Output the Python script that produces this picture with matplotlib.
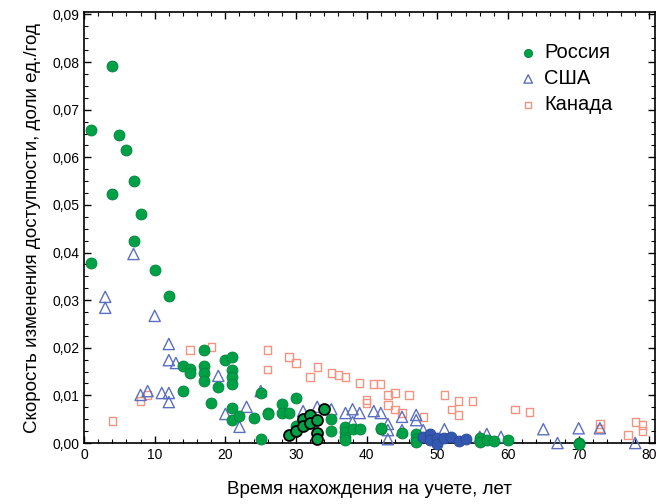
import matplotlib
matplotlib.use('Agg')
import matplotlib.pyplot as plt
from matplotlib.ticker import MultipleLocator, FuncFormatter

plt.rcParams['font.family'] = ['Liberation Sans', 'DejaVu Sans']

# Россия (зелёные кружки)
rus_x = [1, 1, 4, 4, 5, 6, 7, 7, 8, 10, 12,
         14, 15, 15, 17, 17, 17, 17, 14, 20, 21, 21, 21, 21, 19, 18, 21, 21, 22, 24,
         26, 26, 25, 25, 28, 28, 29, 30, 30,
         35, 35, 37, 37, 37, 37, 38, 39, 42, 42, 45,
         47, 47, 47, 56, 56, 57, 58, 60, 70, 70]
rus_y = [0.0658, 0.0379, 0.0792, 0.0524, 0.0646, 0.0616, 0.0551, 0.0424, 0.0480, 0.0364, 0.0309,
         0.0162, 0.0156, 0.0148, 0.0196, 0.0162, 0.0148, 0.0131, 0.0110, 0.0175, 0.0180, 0.0154,
         0.0139, 0.0123, 0.0118, 0.0085, 0.0074, 0.0049, 0.0056, 0.0053,
         0.0064, 0.0060, 0.0009, 0.0106, 0.0081, 0.0064, 0.0064, 0.0095, 0.0036,
         0.0050, 0.0025, 0.0033, 0.0023, 0.0013, 0.0006, 0.0029, 0.0029, 0.0029, 0.0031, 0.0021,
         0.0019, 0.0009, 0.0003, 0.0010, 0.0003, 0.0007, 0.0005, 0.0007, 0.0001, -0.0003]

# Россия, выделенные (чёрная обводка)
rus_hl_x = [29, 30, 31, 31, 32, 32, 33, 33, 33, 34]
rus_hl_y = [0.0017, 0.0025, 0.0050, 0.0036, 0.0059, 0.0042, 0.0048, 0.0021, 0.0008, 0.0071]

# синие кружки
blue_x = [48, 49, 49, 50, 50, 51, 52, 53, 54]
blue_y = [0.0013, 0.0019, 0.0006, 0.0010, -0.0002, 0.0010, 0.0013, 0.0004, 0.0008]

# США (треугольники)
usa_x = [7, 3, 3, 10, 12, 12, 13, 19, 8, 9, 11, 12, 12, 25, 23, 20, 22,
         30, 31, 33, 35, 37, 38, 39, 38, 41, 42, 43, 43, 43, 45, 45, 47, 47, 48,
         51, 57, 59, 56, 65, 70, 73, 67, 78]
usa_y = [0.0397, 0.0307, 0.0284, 0.0267, 0.0208, 0.0174, 0.0168, 0.0141, 0.0101, 0.0109, 0.0105,
         0.0105, 0.0086, 0.0109, 0.0076, 0.0061, 0.0034,
         0.0034, 0.0067, 0.0076, 0.0071, 0.0063, 0.0071, 0.0063, 0.0044, 0.0067, 0.0063, 0.0040,
         0.0008, 0.0027, 0.0055, 0.0027, 0.0059, 0.0048, 0.0027,
         0.0029, 0.0019, 0.0013, 0.0013, 0.0029, 0.0031, 0.0031, 0.0000, 0.0000]

# Канада (квадраты)
can_x = [4, 8, 9, 15, 18, 26, 26, 29, 30, 33, 32, 35, 36, 37, 39, 41, 42, 40, 40,
         43, 43, 44, 46, 44, 45, 48, 51, 53, 55, 52, 53, 61, 63, 73, 73, 78, 79, 79, 77]
can_y = [0.0046, 0.0088, 0.0101, 0.0195, 0.0202, 0.0195, 0.0155, 0.0181, 0.0168, 0.0160, 0.0139,
         0.0147, 0.0143, 0.0139, 0.0126, 0.0124, 0.0124, 0.0090, 0.0084,
         0.0101, 0.0080, 0.0105, 0.0101, 0.0071, 0.0063, 0.0055, 0.0101, 0.0088, 0.0088, 0.0071,
         0.0059, 0.0071, 0.0065, 0.0040, 0.0031, 0.0044, 0.0038, 0.0025, 0.0017]

fig = plt.figure(figsize=(6.67, 5.04), dpi=100)
ax = fig.add_axes([0.126, 0.121, 0.856, 0.855])

ax.scatter(can_x, can_y, marker='s', s=28, facecolors='none', edgecolors='#f4937f',
           linewidths=1.0, label='Канада', zorder=2, clip_on=False)
ax.scatter(usa_x, usa_y, marker='^', s=65, facecolors='none', edgecolors='#5b6fc0',
           linewidths=1.0, label='США', zorder=3, clip_on=False)
ax.scatter(rus_x, rus_y, marker='o', s=62, color='#00a046', edgecolors='#00843a',
           linewidths=0.6, label='Россия', zorder=4, clip_on=False)
ax.scatter(rus_hl_x, rus_hl_y, marker='o', s=62, color='#00a046', edgecolors='black',
           linewidths=1.3, zorder=5, clip_on=False)
ax.scatter(blue_x, blue_y, marker='o', s=62, color='#3458b0', edgecolors='#2a4a9a',
           linewidths=0.6, zorder=5, clip_on=False)

ax.set_xlim(0, 80.8)
ax.set_ylim(0, 0.0905)
ax.xaxis.set_major_locator(MultipleLocator(10))
ax.xaxis.set_minor_locator(MultipleLocator(2))
ax.yaxis.set_major_locator(MultipleLocator(0.01))
ax.yaxis.set_minor_locator(MultipleLocator(0.0025))
ax.yaxis.set_major_formatter(FuncFormatter(lambda v, p: f'{v:.2f}'.replace('.', ',')))
ax.tick_params(which='both', direction='in', top=True, right=True, labelsize=10)
ax.tick_params(which='major', length=5, width=1)
ax.tick_params(which='minor', length=3, width=0.8)
for sp in ax.spines.values():
    sp.set_linewidth(1.2)

ax.set_xlabel('Время нахождения на учете, лет', fontsize=13.5, labelpad=14)
ax.set_ylabel('Скорость изменения доступности, доли ед./год', fontsize=13.5, labelpad=8)

h, l = ax.get_legend_handles_labels()
order = [2, 1, 0]
leg = ax.legend([h[i] for i in order], [l[i] for i in order], loc='upper left',
                bbox_to_anchor=(0.725, 0.97), frameon=False, fontsize=14.5,
                markerscale=0.75, handletextpad=0.2, labelspacing=0.35,
                handlelength=1.2)

fig.savefig('out.png', dpi=100)
